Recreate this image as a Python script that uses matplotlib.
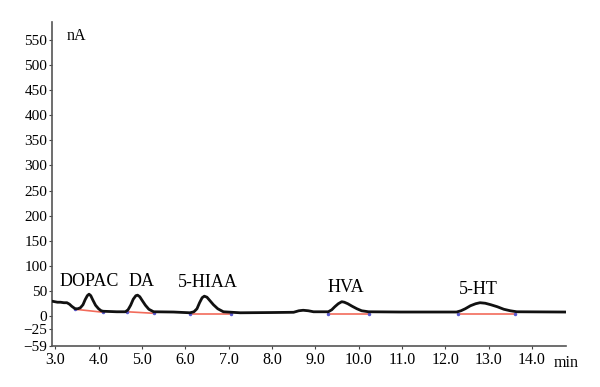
import matplotlib.pyplot as plt
import numpy as np

# chromatogram trace (min, nA)
time = [2.93, 3.05, 3.12, 3.20, 3.27, 3.33, 3.38, 3.46, 3.52, 3.58, 3.64, 3.69, 3.74,
        3.78, 3.82, 3.87, 3.93, 4.00, 4.06, 4.11, 4.42,
        4.62, 4.68, 4.74, 4.80, 4.86, 4.90, 4.95, 5.01, 5.08, 5.16, 5.27, 5.73,
        6.11, 6.20, 6.27, 6.33, 6.39, 6.44, 6.50, 6.57, 6.65, 6.75, 6.88, 7.27,
        8.00, 8.50, 8.62, 8.72, 8.84, 8.96,
        9.30, 9.38, 9.45, 9.53, 9.61, 9.67, 9.75, 9.85, 9.96, 10.07, 10.23,
        10.97, 12.26, 12.36, 12.46, 12.58, 12.70, 12.80, 12.92, 13.05, 13.20,
        13.35, 13.50, 13.65, 14.76]
signal = [30, 28, 28, 27, 27, 24, 20, 15, 15, 17, 23, 33, 41,
          44, 41, 32, 22, 15, 11, 10, 9,
          9, 13, 22, 34, 41, 42, 39, 31, 22, 14, 9, 8.5,
          7, 9, 15, 27, 37, 40, 38, 31, 23, 15, 9, 7,
          7.5, 8, 11, 12, 11, 9,
          9, 13, 19, 25, 29, 28, 25, 20, 15, 11, 9,
          8.5, 8.5, 11, 15, 21, 25, 27, 26, 23, 19,
          14, 11, 9, 8.5]

# integration baselines: (start, end, value at start, value at end)
bl_start = [3.46, 4.66, 6.11, 9.30, 12.30]
bl_end = [4.11, 5.27, 7.05, 10.23, 13.61]
bl_v0 = [14, 9, 5, 5, 5]
bl_v1 = [8, 6, 5, 5, 5]

peak_names = ["DOPAC", "DA", "5-HIAA", "HVA", "5-HT"]
peak_t = [3.78, 5.0, 6.52, 9.71, 12.77]
peak_v = [70, 70, 67, 57, 54]

yticks = [-59, -25, 0, 50, 100, 150, 200, 250, 300, 350, 400, 450, 500, 550]
xticks = [3.0, 4.0, 5.0, 6.0, 7.0, 8.0, 9.0, 10.0, 11.0, 12.0, 13.0, 14.0]

plt.rcParams['font.family'] = ['Liberation Serif', 'DejaVu Serif']

fig = plt.figure(figsize=(6, 3.87), dpi=100)
ax = fig.add_axes([0.087, 0.106, 0.856, 0.837])

for t0, t1, v0, v1 in zip(bl_start, bl_end, bl_v0, bl_v1):
	ax.plot([t0, t1], [v0, v1], color='#f26b5b', lw=1.2, zorder=2)
	ax.plot([t0, t1], [v0, v1], ls='none', marker='o', ms=1.5, color='#5a5ad0', zorder=3)

ax.plot(time, signal, color='#111111', lw=2.0, zorder=4, solid_joinstyle='round')

for name, t, v in zip(peak_names, peak_t, peak_v):
	ax.text(t, v, name, ha='center', va='center', fontsize=13)

ax.set_xlim(2.93, 14.78)
ax.set_ylim(-59, 585)
ax.set_xticks(xticks)
ax.set_xticklabels([f"{x:.1f}" for x in xticks])
ax.set_yticks(yticks)
ax.tick_params(length=2, width=0.8, pad=2, color='#444444')
ax.tick_params(axis='x', labelsize=11.5)
ax.tick_params(axis='y', labelsize=11, pad=1.5)

for side in ['top', 'right']:
	ax.spines[side].set_visible(False)
for side in ['left', 'bottom']:
	ax.spines[side].set_color('#555555')
	ax.spines[side].set_linewidth(1.2)

ax.text(0.028, 0.982, "nA", transform=ax.transAxes, ha='left', va='top', fontsize=11.5)
ax.text(1.0, -0.052, "min", transform=ax.transAxes, ha='center', va='center', fontsize=11.5)

fig.savefig("out.png", dpi=100)
